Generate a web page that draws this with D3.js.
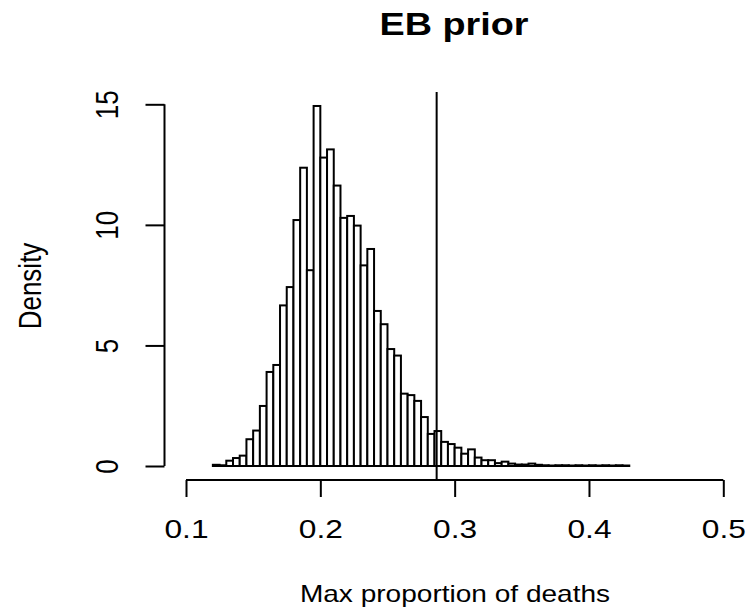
<!DOCTYPE html>
<html><head><meta charset="utf-8">
<script src="https://cdn.jsdelivr.net/npm/d3@7"></script>
<style>body{margin:0;background:#fff}svg{display:block}text{font-family:"Liberation Sans",Arial,sans-serif;fill:#000}</style>
</head><body>
<script>
const binStart = 0.12;
const binWidth = 0.005;
const densities = [0.05,0.03,0.22,0.33,0.43,1.11,1.47,2.49,3.90,4.19,
  6.66,7.42,10.20,12.37,8.12,14.93,12.79,13.13,11.63,10.29,
  10.37,9.97,8.32,9.00,6.43,5.88,4.85,4.58,3.00,2.94,
  2.70,2.03,1.33,1.45,1.00,0.91,0.76,0.51,0.69,0.35,
  0.24,0.24,0.12,0.18,0.10,0.06,0.06,0.10,0.05,0.03,
  0.02,0.03,0.03,0.02,0.03,0.02,0.03,0.02,0.03,0.02,0.03,0.02];
const refLine = 0.2866;
const xTicks = [0.1,0.2,0.3,0.4,0.5];
const xTickLabels = ["0.1","0.2","0.3","0.4","0.5"];
const yTicks = [0,5,10,15];
const yTickLabels = ["0","5","10","15"];
const title = "EB prior";
const xLabel = "Max proportion of deaths";
const yLabel = "Density";

const W = 751, H = 616, SX = 1.22, FS = 26;
const svg = d3.select("body").append("svg").attr("width", W).attr("height", H);
const x = d3.scaleLinear().domain([0.1,0.5]).range([186,723.3]);
const y = d3.scaleLinear().domain([0,15]).range([466,104.3]);
const plotTop = 92, plotBottom = 480, plotLeft = 164.5;

const bins = densities.map((d,i)=>({x0: binStart + i*binWidth, x1: binStart + (i+1)*binWidth, d}));
svg.append("g").selectAll("rect").data(bins).join("rect")
  .attr("x", b=>x(b.x0)).attr("width", b=>x(b.x1)-x(b.x0))
  .attr("y", b=>y(b.d)).attr("height", b=>y(0)-y(b.d))
  .attr("fill","#fff").attr("stroke","#000").attr("stroke-width",2);

svg.append("line").attr("x1",x(refLine)).attr("x2",x(refLine))
  .attr("y1",plotTop).attr("y2",plotBottom).attr("stroke","#000").attr("stroke-width",2);

const xa = svg.append("g").attr("transform",`translate(0,${plotBottom})`)
  .call(d3.axisBottom(x).tickValues(xTicks).tickSize(17));
xa.select(".domain").attr("stroke","#000").attr("stroke-width",2).attr("d",`M${x(0.1)},0H${x(0.5)}`);
xa.selectAll(".tick line").attr("stroke","#000").attr("stroke-width",2);
xa.selectAll(".tick text").remove();
xa.selectAll(".tick").append("text").attr("text-anchor","middle")
  .attr("transform",`translate(0,57.5) scale(${SX},1)`).attr("font-size",FS).text((d,i)=>xTickLabels[i]);

const ya = svg.append("g").attr("transform",`translate(${plotLeft},0)`)
  .call(d3.axisLeft(y).tickValues(yTicks).tickSize(19));
ya.select(".domain").attr("stroke","#000").attr("stroke-width",2).attr("d",`M0,${y(0)}V${y(15)}`);
ya.selectAll(".tick line").attr("stroke","#000").attr("stroke-width",2);
ya.selectAll(".tick text").remove();
ya.selectAll(".tick").append("text").attr("text-anchor","middle")
  .attr("transform",`translate(-47,0) rotate(-90) scale(1,${SX})`).attr("font-size",FS).text((d,i)=>yTickLabels[i]);

svg.append("text").attr("text-anchor","middle").attr("font-weight","bold").attr("font-size",31)
  .attr("transform",`translate(454,35) scale(${SX},1)`).text(title);
svg.append("text").attr("text-anchor","middle").attr("font-size",23)
  .attr("transform",`translate(455,602) scale(${SX},1)`).text(xLabel);
svg.append("text").attr("text-anchor","middle").attr("font-size",FS)
  .attr("transform",`translate(41,286) rotate(-90) scale(1,${SX})`).text(yLabel);
</script>
</body></html>
